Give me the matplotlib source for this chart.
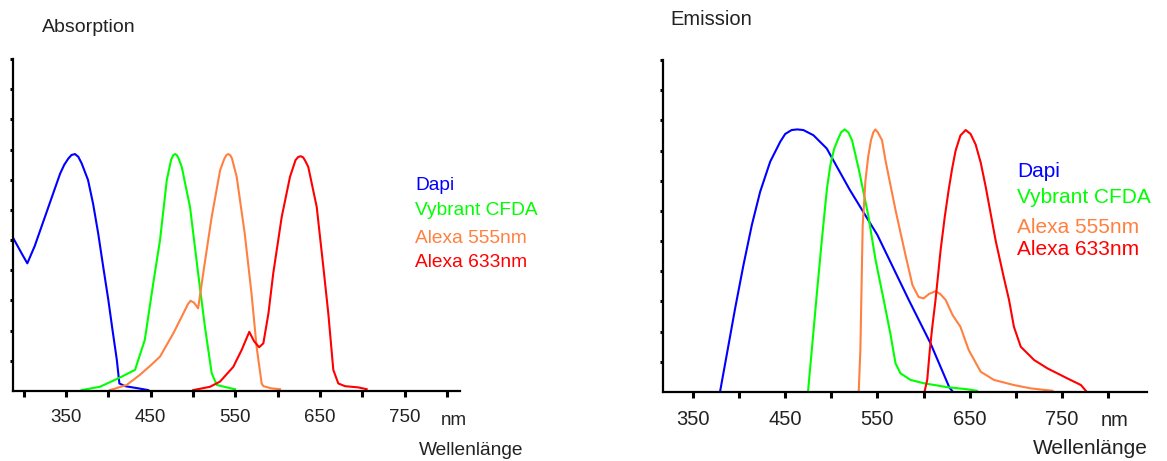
import matplotlib
matplotlib.use("Agg")
import matplotlib.pyplot as plt

plt.rcParams['font.family'] = ['Liberation Sans', 'DejaVu Sans']

W, H = 1167, 461

# ---- absorption spectra (wavelength in nm, relative intensity) ----
dapi_abs_nm = [287, 297.6, 304.3, 313, 323, 333, 343, 348, 352.7, 356.5, 360.6, 364.5, 368.5,
               376, 382, 388, 394, 400, 405, 410, 413, 419.7, 435, 447]
dapi_abs = [51, 45.6, 42.3, 48, 56, 64, 72, 75, 77, 78.2, 78.5, 77.6, 75.4,
            69.9, 62, 52.2, 41, 30.1, 20, 10.3, 2.5, 1.6, 0.9, 0.3]

cfda_abs_nm = [368.5, 390, 411.8, 431.5, 443, 453, 461, 469, 474, 476.5, 478.7, 481, 483,
               486.6, 496.4, 506, 514, 522, 528, 539.7, 549.5]
cfda_abs = [0.3, 1.4, 4.2, 7, 16.9, 35.7, 50, 69.9, 76.5, 78.1, 78.5, 78.1, 77,
            74.3, 61, 39, 21.3, 5.9, 2, 1.2, 0.6]

a555_abs_nm = [402, 421.6, 437, 450, 461, 476.7, 488.5, 494, 497, 501, 506, 512, 522, 532,
               537, 539.5, 541.6, 544, 546, 551.5, 561, 569, 575, 581, 583, 592, 602.7]
a555_abs = [0.3, 2, 5.3, 8.5, 11.4, 19.1, 25.7, 28.8, 29.9, 29.3, 27.4, 39, 57.7, 73.2,
            77, 78.2, 78.5, 78.1, 77, 71, 52.2, 32.4, 14.7, 2.5, 1.6, 0.9, 0.6]

a633_abs_nm = [500.3, 520, 531.8, 547.5, 557.4, 566.4, 572, 578, 583, 589, 594.7, 604.7,
               614.5, 621, 624, 627, 630, 632, 636, 646, 653.8, 659.7, 665.6, 671.5,
               679.4, 695, 705]
a633_abs = [0.3, 1.4, 3.1, 8, 13.6, 19.6, 16.5, 14.5, 15.8, 25.7, 39, 57.7,
            71, 76.5, 77.5, 77.8, 77.4, 76.5, 74.3, 61, 41.2, 25.7, 7, 2.5,
            1.6, 1.2, 0.6]

# ---- emission spectra ----
dapi_em_nm = [379.3, 386.6, 395.7, 404.7, 413.8, 422.8, 433.7, 444.6, 450, 457, 463, 469.6,
              480.5, 495, 520, 550, 584, 607.6, 628, 632]
dapi_em = [0, 12.3, 27.7, 42, 55.3, 66.3, 76.3, 82.9, 85.5, 86.8, 87, 86.8,
           85.1, 80.7, 67, 52, 30.5, 16.1, 1.5, 0]

cfda_em_nm = [474.7, 479, 484.5, 489.9, 495.3, 499, 503, 506.8, 510.5, 514.5, 518.5, 522.5,
              530, 540, 548, 556.8, 564, 569.6, 575, 585.9, 600.3, 625.7, 647.5, 658]
cfda_em = [0, 14.5, 33.2, 50.9, 67.5, 75.2, 80.5, 83.4, 86, 87, 86, 83.4,
           73.5, 58.6, 43.7, 30.5, 19.4, 9.5, 6.2, 4, 2.9, 1.6, 0.9, 0.4]

a555_em_nm = [529.7, 531.5, 532.5, 534, 537, 540, 543, 545.5, 547.8, 550.5, 555, 558.7,
              569.6, 580.4, 588, 594.6, 600, 606, 613, 618, 624, 631.5, 640, 649,
              662, 676.4, 698, 716.3, 739.9]
a555_em = [0, 13.9, 30, 55, 70, 78, 83.4, 86, 87, 86, 83.4, 76.8,
           60.3, 45.4, 35.4, 31.5, 31, 32.5, 33.4, 32.5, 30.5, 25.5, 21.6, 13.9,
           6.7, 4, 2.3, 1.2, 0.4]

a633_em_nm = [601, 604, 606.8, 609.5, 613, 618.5, 623, 627.2, 631, 634.8, 640, 645.7,
              651, 656.5, 662, 667.4, 678.3, 687, 692.7, 698, 705.4, 719.9, 734.5,
              756, 770.7, 776]
a633_em = [0, 4, 13.9, 21.6, 30.5, 47, 58, 66.9, 74, 80, 85, 86.8,
           85.5, 82, 76, 68, 50, 38, 30.5, 21.6, 15, 10.6, 7.8,
           4.5, 2.3, 0.4]

dye_names = ["Dapi", "Vybrant CFDA", "Alexa 555nm", "Alexa 633nm"]
dye_colors = ["#0000ff", "#00ff00", "#ff8040", "#ff0000"]

x_ticks = [300, 350, 400, 450, 500, 550, 600, 650, 700, 750, 800]
x_labels = ["350", "450", "550", "650", "750"]
y_ticks = [10, 20, 30, 40, 50, 60, 70, 80, 90, 100, 110]


def px_box(left, top, right, bottom):
    return [left / W, 1 - bottom / H, (right - left) / W, (bottom - top) / H]


def ftext(x, y, s, **kw):
    fig.text(x / W, 1 - y / H, s, va="baseline", **kw)


fig = plt.figure(figsize=(W / 100, H / 100), dpi=100)

panels = [
    dict(box=px_box(13, 59, 460, 391), xlim=(287.4, 815.2), fs=13.5,
         series=[(dapi_abs_nm, dapi_abs), (cfda_abs_nm, cfda_abs),
                 (a555_abs_nm, a555_abs), (a633_abs_nm, a633_abs)],
         title=("Absorption", 42, 32, 14),
         legend=(415, [190, 215, 243, 267], 13.8),
         xlabel=(471.5, 455, 13.8), nm=(454, 425)),
    dict(box=px_box(663, 60, 1147, 392), xlim=(317.5, 842.3), fs=14.5,
         series=[(dapi_em_nm, dapi_em), (cfda_em_nm, cfda_em),
                 (a555_em_nm, a555_em), (a633_em_nm, a633_em)],
         title=("Emission", 670, 25, 14.5),
         legend=(1017, [177, 203, 233, 255], 15),
         xlabel=(1090.5, 454, 15), nm=(1115, 426)),
]

for p in panels:
    ax = fig.add_axes(p["box"])
    for (xs, ys), c in zip(p["series"], dye_colors):
        ax.plot(xs, ys, color=c, lw=1.5, clip_on=True)
    ax.set_xlim(*p["xlim"])
    ax.set_ylim(0, 110)
    for side in ("top", "right"):
        ax.spines[side].set_visible(False)
    for side in ("left", "bottom"):
        ax.spines[side].set_linewidth(1.6)
    ticks_in = [t for t in x_ticks if p["xlim"][0] <= t <= p["xlim"][1]]
    ax.set_xticks(ticks_in)
    ax.set_xticklabels([str(t) if str(t) in x_labels else "" for t in ticks_in],
                       fontsize=p["fs"], color="#222222")
    ax.set_yticks(y_ticks)
    ax.set_yticklabels([])
    ax.tick_params(axis="x", direction="out", length=4, width=2.2, pad=9)
    ax.tick_params(axis="y", direction="out", length=2.5, width=2.2)
    ax.patch.set_alpha(0)

    t, tx, ty, tfs = p["title"]
    ftext(tx, ty, t, fontsize=tfs, color="#222222")
    lx, lys, lfs = p["legend"]
    for name, c, ly in zip(dye_names, dye_colors, lys):
        ftext(lx, ly, name, color=c, fontsize=lfs)
    wx, wy, wfs = p["xlabel"]
    ftext(wx, wy, "Wellenlänge", fontsize=wfs, ha="center", color="#222222")
    nx, ny = p["nm"]
    ftext(nx, ny, "nm", fontsize=p["fs"], ha="center", color="#222222")

fig.savefig("out.png", dpi=100)
